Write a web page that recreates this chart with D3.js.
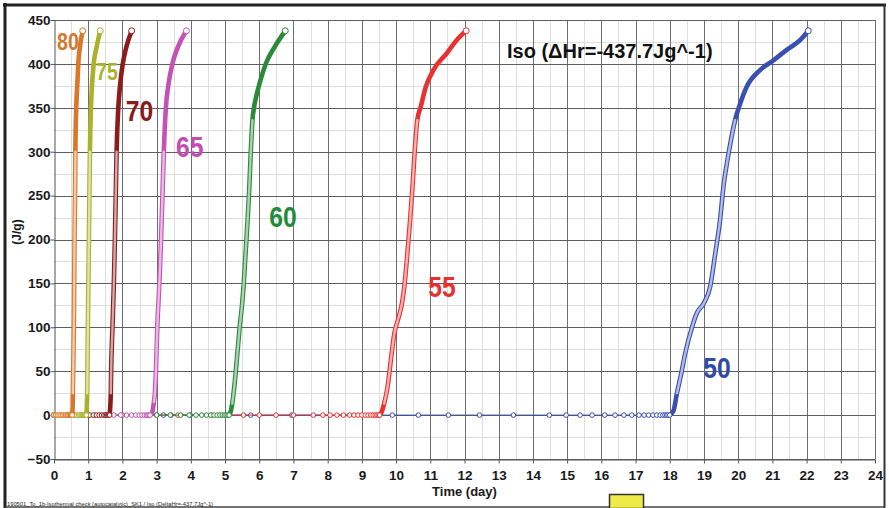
<!DOCTYPE html>
<html><head><meta charset="utf-8">
<script src="https://cdn.jsdelivr.net/npm/d3@7"></script>
<style>
body{margin:0;background:#fff}
svg{display:block}
text{font-family:"Liberation Sans",Arial,sans-serif}
</style>
</head><body>
<svg id="c" width="889" height="508"></svg>
<script>
// ---- data ----
const xTicks = d3.range(0, 25);
const yTicks = [-50, 0, 50, 100, 150, 200, 250, 300, 350, 400, 450];
const seriesNames = ["50", "55", "60", "65", "70", "75", "80"];
const seriesColors = ["#3a4fb0", "#e83232", "#2a8a3a", "#c352b5", "#8c1c1c", "#a9b22a", "#d9772a"];
const labelColors = ["#2f4ba6", "#e8302e", "#228b3b", "#c24db3", "#8a1a1a", "#aab22c", "#d4782e"];
// label anchor [time, value, fontSize]
const labelPos = [[18.98, 42, 29], [10.94, 134, 29], [6.29, 214, 29], [3.57, 294, 29], [2.1, 335, 29], [1.23, 382, 23], [0.09, 416, 23]];
const titleText = "Iso (\u0394Hr=-437.7Jg^-1)";
const footerText = "190501_To_1b-Isothermal check (autocatalytic)_SK1 / Iso (DeltaHr=-437.7Jg^-1)";

const s80 = [[0,0],[0.05,0],[0.1,0],[0.15,0],[0.2,0],[0.25,0],[0.3,0],[0.34,0],[0.38,0],[0.41,0],[0.44,0],[0.47,0],[0.49,0],[0.51,0],[0.53,0],[0.545,10],[0.55,25],[0.565,60],[0.58,100],[0.59,150],[0.60,200],[0.615,250],[0.625,300],[0.65,350],[0.68,375],[0.71,400],[0.76,420],[0.84,437.7]];
const s75 = [[0,0],[0.2,0],[0.4,0],[0.56,0],[0.62,0],[0.67,0],[0.72,0],[0.76,0],[0.8,0],[0.83,0],[0.86,0],[0.89,0],[0.91,0],[0.93,0],[0.945,0],[0.96,10],[0.97,25],[0.98,60],[0.99,100],[1.005,150],[1.02,200],[1.035,250],[1.05,300],[1.08,350],[1.11,375],[1.16,400],[1.25,420],[1.35,437.7]];
const s70 = [[0,0],[0.4,0],[0.8,0],[1.05,0],[1.15,0],[1.24,0],[1.32,0],[1.39,0],[1.45,0],[1.5,0],[1.54,0],[1.57,0],[1.6,0],[1.625,0],[1.645,10],[1.66,25],[1.67,50],[1.71,100],[1.75,150],[1.78,200],[1.805,250],[1.83,300],[1.88,350],[1.93,375],[2.01,400],[2.12,420],[2.27,437.7]];
const s65 = [[0,0],[0.6,0],[1.2,0],[1.75,0],[1.95,0],[2.12,0],[2.27,0],[2.39,0],[2.49,0],[2.57,0],[2.64,0],[2.7,0],[2.74,0],[2.78,0],[2.81,0],[2.87,3],[2.92,15],[2.95,25],[2.98,50],[3.02,100],[3.08,150],[3.13,200],[3.17,250],[3.21,300],[3.27,350],[3.34,375],[3.46,400],[3.63,420],[3.87,437.7]];
const s60 = [[0,0],[1.0,0],[2.0,0],[3.0,0],[3.4,0],[3.7,0],[3.95,0],[4.15,0],[4.32,0],[4.46,0],[4.58,0],[4.68,0],[4.77,0],[4.85,0],[4.92,0],[4.98,0],[5.03,0],[5.08,0],[5.12,0],[5.15,2],[5.21,13],[5.27,32],[5.36,70],[5.42,97],[5.50,127],[5.54,146],[5.60,184],[5.66,222],[5.71,260],[5.75,298],[5.80,336],[5.85,351],[5.93,366],[6.04,382],[6.20,401],[6.46,420],[6.76,437.7]];
const s55 = [[0,0],[1.5,0],[3.0,0],[3.62,0],[4.6,0],[5.54,0],[6.0,0],[6.49,0],[7.0,0],[7.58,0],[7.86,0],[8.07,0],[8.27,0],[8.46,0],[8.64,0],[8.77,0],[8.89,0],[9.0,0],[9.1,0],[9.18,0],[9.26,0],[9.33,0],[9.39,0],[9.44,0],[9.48,0],[9.52,0],[9.56,2],[9.65,13],[9.75,32],[9.87,70],[9.95,93],[10.05,108],[10.17,127],[10.24,146],[10.33,184],[10.41,222],[10.48,260],[10.54,298],[10.62,336],[10.72,351],[10.87,374],[11.09,393],[11.48,412],[11.77,427],[12.05,437.7]];
const s50 = [[3.2,0],[3.42,0],[3.98,0],[5.75,0],[6.95,0],[9.89,0],[10.65,0],[11.53,0],[12.44,0],[13.43,0],[14.48,0],[14.97,0],[15.38,0],[15.73,0],[16.10,0],[16.40,0],[16.66,0],[16.89,0],[17.10,0],[17.25,0],[17.38,0],[17.51,0],[17.62,0],[17.72,0],[17.80,0],[17.86,0],[17.91,0],[17.95,0],[18.0,0],[18.11,5],[18.21,25],[18.35,50],[18.45,70],[18.65,100],[18.79,116],[18.99,127],[19.18,146],[19.33,184],[19.47,222],[19.57,260],[19.72,298],[19.91,336],[20.06,355],[20.25,374],[20.64,393],[21.03,404],[21.42,416],[21.81,427],[22.05,437.7]];
const seriesData = [s50, s55, s60, s65, s70, s75, s80];

// ---- drawing ----
const svg = d3.select("#c");
const x = d3.scaleLinear().domain([0, 24]).range([54, 875]);
const y = d3.scaleLinear().domain([-50, 450]).range([459, 20]);
const cx = v => Math.round(x(v)) + 0.5;
const cy = v => Math.round(y(v)) + 0.5;

// frame
const frame = svg.append("g");
frame.append("line").attr("x1", 3).attr("x2", 886).attr("y1", 5).attr("y2", 5).attr("stroke", "#222").attr("stroke-width", 3);
frame.append("line").attr("x1", 5).attr("x2", 5).attr("y1", 3).attr("y2", 508).attr("stroke", "#222").attr("stroke-width", 3);
frame.append("line").attr("x1", 884.5).attr("x2", 884.5).attr("y1", 4).attr("y2", 508).attr("stroke", "#333").attr("stroke-width", 2);
frame.append("line").attr("x1", 5).attr("x2", 885).attr("y1", 507).attr("y2", 507).attr("stroke", "#444").attr("stroke-width", 1.5);

// grid
const grid = svg.append("g");
const minorX = d3.range(0.5, 24, 1);
const minorY = d3.range(-25, 450, 50);
grid.selectAll(".mx").data(minorX).join("line")
  .attr("x1", cx).attr("x2", cx).attr("y1", y(450)).attr("y2", y(-50))
  .attr("stroke", "#dedede").attr("stroke-width", 1);
grid.selectAll(".my").data(minorY).join("line")
  .attr("x1", x(0)).attr("x2", x(24)).attr("y1", cy).attr("y2", cy)
  .attr("stroke", "#dedede").attr("stroke-width", 1);
grid.selectAll(".Mx").data(xTicks.filter(d => d > 0)).join("line")
  .attr("x1", cx).attr("x2", cx).attr("y1", y(450)).attr("y2", y(-50))
  .attr("stroke", "#6e6e6e").attr("stroke-width", 1);
grid.selectAll(".My").data(yTicks).join("line")
  .attr("x1", x(0)).attr("x2", x(24)).attr("y1", cy).attr("y2", cy)
  .attr("stroke", "#5e5e5e").attr("stroke-width", 1);

// axes
const ax = svg.append("g").attr("transform", `translate(${cx(0)},0)`)
  .call(d3.axisLeft(y).tickValues(yTicks).tickSizeInner(4).tickSizeOuter(0).tickPadding(0).tickFormat(d3.format("d")));
const bx = svg.append("g").attr("transform", `translate(0,${cy(-50)})`)
  .call(d3.axisBottom(x).tickValues(xTicks).tickSizeInner(4).tickSizeOuter(0).tickPadding(7).tickFormat(d3.format("d")));
[ax, bx].forEach(g => {
  g.select(".domain").attr("stroke", "#555");
  g.selectAll(".tick line").attr("stroke", "#555");
  g.selectAll(".tick text").attr("fill", "#1a1a1a").style("font-size", "13.5px").style("font-weight", "bold")
    .style("font-family", '"Liberation Sans",Arial,sans-serif');
});

// axis titles
svg.append("text").attr("transform", "translate(21,232) rotate(-90)").attr("text-anchor", "middle")
  .style("font-size", "12px").style("font-weight", "bold").attr("fill", "#1a1a1a").text("(J/g)");
svg.append("text").attr("x", 464.5).attr("y", 496).attr("text-anchor", "middle")
  .style("font-size", "13px").style("font-weight", "bold").attr("fill", "#1a1a1a").text("Time (day)");

// series
const line = d3.line().x(d => x(d[0])).y(d => y(d[1])).curve(d3.curveMonotoneX);
const plot = svg.append("g");
seriesData.forEach((data, i) => {
  const col = seriesColors[i];
  const tint = d3.interpolateRgb(col, "#fff")(0.62);
  const g = plot.append("g");
  let lastZero = 0;
  data.forEach((d, j) => { if (d[1] === 0) lastZero = j; });
  const base = data.slice(0, lastZero + 1);
  const rise = data.slice(lastZero);
  g.append("path").attr("d", line(base)).attr("fill", "none").attr("stroke", col).attr("stroke-width", 1);
  g.append("path").attr("d", line(rise)).attr("fill", "none").attr("stroke", col).attr("stroke-width", 4.6).attr("stroke-linecap", "round");
  const hollow = rise.filter(d => d[1] >= 12 && d[1] <= 345);
  g.append("path").attr("d", line(hollow)).attr("fill", "none").attr("stroke", tint).attr("stroke-width", 2.4).attr("stroke-linecap", "round");
  g.selectAll("circle").data(base.concat([data[data.length - 1]])).join("circle")
    .attr("cx", d => x(d[0])).attr("cy", d => y(d[1])).attr("r", (d, j, n) => j === n.length - 1 ? 3 : 2.3)
    .attr("fill", "#fff").attr("stroke", col).attr("stroke-width", 1);
});

// series labels
seriesNames.forEach((n, i) => {
  const p = labelPos[i];
  svg.append("text").attr("transform", `translate(${x(p[0])},${y(p[1])}) scale(0.85,1)`)
    .style("font-size", p[2] + "px").style("font-weight", "bold").attr("fill", labelColors[i]).text(n);
});

// title
svg.append("text").attr("x", 507).attr("y", 57.5).style("font-size", "20px").style("font-weight", "bold")
  .attr("fill", "#111").text(titleText);

// footer
svg.append("text").attr("x", 7).attr("y", 506).style("font-size", "6.2px").attr("fill", "#222")
  .attr("textLength", 206).attr("lengthAdjust", "spacingAndGlyphs").text(footerText);
svg.append("rect").attr("x", 609.5).attr("y", 494.5).attr("width", 34).attr("height", 14)
  .attr("fill", "#eeea46").attr("stroke", "#333").attr("stroke-width", 1.5);
</script>
</body></html>
